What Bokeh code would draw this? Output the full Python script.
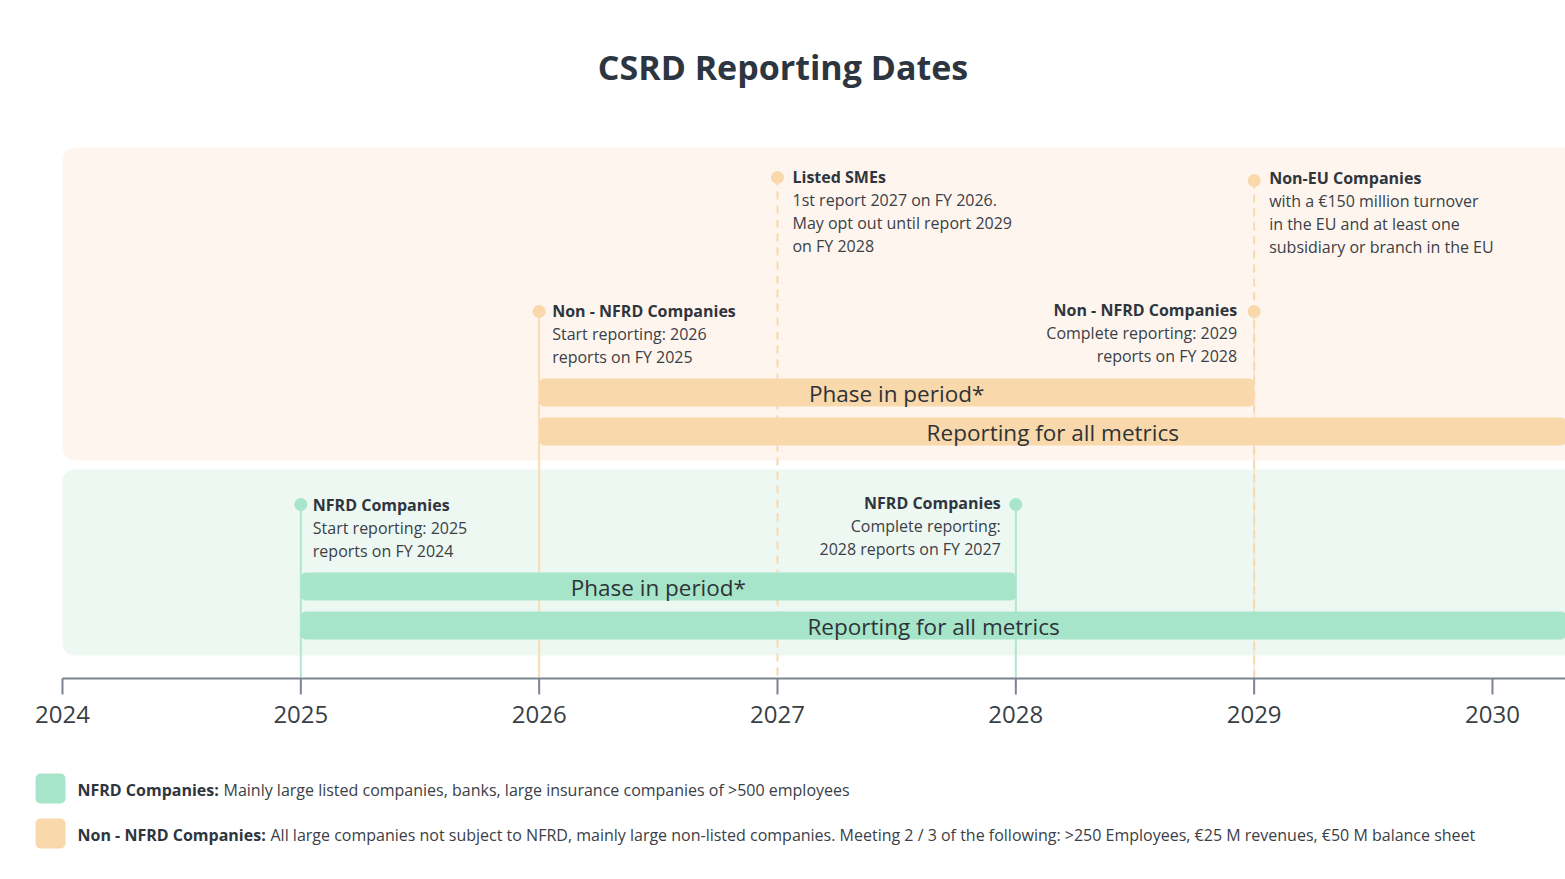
from bokeh.plotting import figure
from bokeh.models import Range1d
from bokeh.core.properties import value
from bokeh.embed import file_html
from bokeh.resources import INLINE

# ---------------- data ----------------
years = [2024, 2025, 2026, 2027, 2028, 2029, 2030]
tick_labels = ["2024", "2025", "2026", "2027", "2028", "2029", "2030"]

bar_labels = ["Phase in period*", "Reporting for all metrics",
              "Phase in period*", "Reporting for all metrics"]
bar_group = ["Non-NFRD", "Non-NFRD", "NFRD", "NFRD"]
bar_start = [2026, 2026, 2025, 2025]
bar_end = [2029, 2030.31, 2028, 2030.31]

note_titles = ["Listed SMEs", "Non-EU Companies", "Non - NFRD Companies",
               "Non - NFRD Companies", "NFRD Companies", "NFRD Companies"]
note_lines = [
    ["1st report 2027 on FY 2026.", "May opt out until report 2029", "on FY 2028"],
    ["with a \u20ac150 million turnover", "in the EU and at least one",
     "subsidiary or branch in the EU"],
    ["Start reporting: 2026", "reports on FY 2025"],
    ["Complete reporting: 2029", "reports on FY 2028"],
    ["Start reporting: 2025", "reports on FY 2024"],
    ["Complete reporting:", "2028 reports on FY 2027"],
]
note_year = [2027, 2029, 2026, 2029, 2025, 2028]
note_group = ["Non-NFRD", "Non-NFRD", "Non-NFRD", "Non-NFRD", "NFRD", "NFRD"]
note_dashed = [True, True, False, False, False, False]

legend_titles = ["NFRD Companies:", "Non - NFRD Companies:"]
legend_texts = [
    "Mainly large listed companies, banks, large insurance companies of >500 employees",
    "All large companies not subject to NFRD, mainly large non-listed companies. "
    "Meeting 2 / 3 of the following: >250 Employees, \u20ac25 M revenues, \u20ac50 M balance sheet",
]
legend_group = ["NFRD", "Non-NFRD"]

# ---------------- layout / style ----------------
W, H = 1565, 879
PPY = 238.33           # pixels per year
X0 = 62                # canvas x of 2024
TOP = 96               # canvas y of frame top
FONT = value("Open Sans")

COL = {"NFRD": "#a7e5ca", "Non-NFRD": "#f9d8ab"}
PANEL = {"NFRD": "#eef8f2", "Non-NFRD": "#fef6ee"}
DARK = "#2f353d"
BODY = "#3b4047"

x_start = 2024 - X0 / PPY
x_end = 2024 + (W - X0) / PPY

p = figure(width=W, height=H, output_backend="svg", toolbar_location=None,
           x_axis_type=None, y_axis_type=None,
           x_range=Range1d(x_start, x_end),
           y_range=Range1d(H, TOP),
           min_border_left=0, min_border_right=0, min_border_bottom=0,
           min_border_top=TOP, outline_line_color=None,
           background_fill_color="white", border_fill_color="white")
p.grid.visible = False

p.title.text = "CSRD Reporting Dates"
p.title.align = "center"
p.title.text_font = "Open Sans"
p.title.text_font_style = "bold"
p.title.text_font_size = "34px"
p.title.text_color = "#2d3540"
p.title.standoff = 14

# background panels
panel_y = {"Non-NFRD": (147, 460), "NFRD": (469, 655)}
for g in ["Non-NFRD", "NFRD"]:
    t, b = panel_y[g]
    p.quad(left=[2024], right=[x_end + 0.2], top=[t], bottom=[b],
           fill_color=PANEL[g], line_color=None, border_radius=12)

# vertical connector lines
note_y = [177, 180, 311, 311, 504, 504]
text_y = [176, 177, 310, 309, 504, 502]
AXIS_Y = 678
for yr, yy, g, d in zip(note_year, note_y, note_group, note_dashed):
    if d:
        p.segment(x0=[yr], y0=[yy], x1=[yr], y1=[AXIS_Y], line_color=COL[g],
                  line_width=2, line_dash="8 6")
    else:
        p.segment(x0=[yr], y0=[yy], x1=[yr], y1=[AXIS_Y], line_color=COL[g],
                  line_width=2, line_alpha=0.9 if g == "NFRD" or yr == 2026 else 0.5)

# bars
bar_y = [(378, 406), (417, 445), (572, 600), (611, 639)]
for lab, g, s, e, (t, b) in zip(bar_labels, bar_group, bar_start, bar_end, bar_y):
    p.quad(left=[s], right=[e], top=[t], bottom=[b], fill_color=COL[g],
           line_color=None, border_radius=5)
    p.text(x=[(s + e) / 2], y=[(t + b) / 2 + 0.5], text=[lab], text_font=FONT,
           text_font_size="22.5px", text_color="#2e3338", text_align="center",
           text_baseline="middle")

# dots
p.scatter(x=note_year, y=note_y, size=13, marker="circle",
          fill_color=[COL[g] for g in note_group], line_color=None)

# note texts
note_align = ["left", "left", "left", "right", "left", "right"]
note_off = [15, 15, 13, -17, 12, -15]
for title, lines, yr, yy, al, off in zip(note_titles, note_lines, note_year, text_y,
                                         note_align, note_off):
    p.text(x=[yr], y=[yy], text=[title], x_offset=off, text_font=FONT,
           text_font_style="bold", text_font_size="16px", text_color=DARK,
           text_align=al, text_baseline="middle")
    p.text(x=[yr] * len(lines), y=[yy + 23 * (i + 1) for i in range(len(lines))],
           text=lines, x_offset=off, text_font=FONT, text_font_size="16px",
           text_color=BODY, text_align=al, text_baseline="middle")

# timeline axis
AX = "#7b8491"
p.segment(x0=[2024], y0=[AXIS_Y], x1=[x_end + 0.2], y1=[AXIS_Y],
          line_color=AX, line_width=2)
p.segment(x0=years, y0=[AXIS_Y] * len(years), x1=years, y1=[AXIS_Y + 16] * len(years),
          line_color=AX, line_width=2)
p.text(x=years, y=[714] * len(years), text=tick_labels, text_font=FONT,
       text_font_size="24px", text_color="#3a3f46", text_align="center",
       text_baseline="middle")

# legend
leg_y = [788, 833]
leg_off = [161, 208]
for t, tx, g, yy, o in zip(legend_titles, legend_texts, legend_group, leg_y, leg_off):
    p.rect(x=[2024 - 12 / PPY], y=[yy], width=30, height=30, width_units="screen",
           height_units="screen", fill_color=COL[g], line_color=None,
           border_radius=5)
    p.text(x=[2024], y=[yy + 1], text=[t], x_offset=15, text_font=FONT,
           text_font_style="bold", text_font_size="16px", text_color=DARK,
           text_align="left", text_baseline="middle")
    p.text(x=[2024], y=[yy + 1], text=[tx], x_offset=o, text_font=FONT,
           text_font_size="16px", text_color=BODY, text_align="left",
           text_baseline="middle")

open("out.html", "w").write(file_html(p, INLINE))
